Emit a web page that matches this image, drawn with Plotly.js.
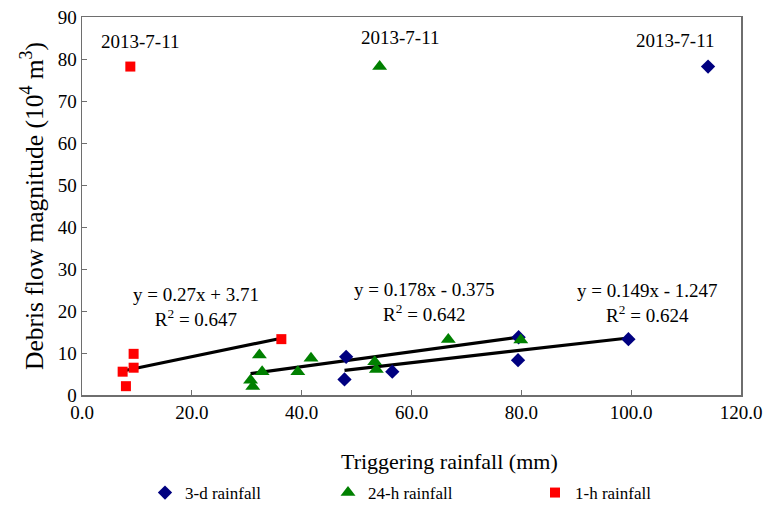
<!DOCTYPE html>
<html>
<head>
<meta charset="utf-8">
<script src="https://cdn.plot.ly/plotly-3.0.1.min.js"></script>
<style>html,body{margin:0;padding:0;background:#fff;}#chart{width:768px;height:519px;}</style>
</head>
<body>
<div id="chart"></div>
<script>
// 3-d rainfall (first point is the 2013-7-11 event)
const rain3d_x = [114.0, 48.1, 47.8, 56.5, 79.5, 79.4, 99.5];
const rain3d_y = [78.2, 9.1, 3.7, 5.55, 13.75, 8.3, 13.3];
// 24-h rainfall
const rain24h_x = [54.2, 32.3, 30.7, 31.1, 32.8, 39.3, 41.7, 53.3, 53.6, 66.7, 79.9];
const rain24h_y = [78.2, 9.5, 3.5, 2.0, 5.55, 5.55, 8.75, 7.9, 6.1, 13.2, 13.1];
// 1-h rainfall
const rain1h_x = [8.8, 7.4, 8.0, 9.4, 9.4, 36.3];
const rain1h_y = [78.2, 5.55, 2.1, 9.8, 6.5, 13.3];

// Trendline coefficients (fitted without the 2013-7-11 event)
const fit3d = {slope: 0.149, intercept: -1.247, r2: 0.624};
const fit24h = {slope: 0.178, intercept: -0.375, r2: 0.642};
const fit1h = {slope: 0.27, intercept: 3.71, r2: 0.647};

const eventLabel = '2013-7-11';
const seriesNames = ['3-d rainfall', '24-h rainfall', '1-h rainfall'];

function trend(xs, fit) {
  const pts = xs.slice(1);
  const x0 = Math.min(...pts), x1 = Math.max(...pts);
  return {
    x: [x0, x1],
    y: [fit.slope * x0 + fit.intercept, fit.slope * x1 + fit.intercept],
    mode: 'lines', type: 'scatter', showlegend: false, hoverinfo: 'skip',
    line: {color: '#000000', width: 3.2}
  };
}
function eqText(fit) {
  const b = fit.intercept;
  const sign = b < 0 ? ' - ' : ' + ';
  return 'y = ' + fit.slope + 'x' + sign + Math.abs(b) + '<br>R<sup>2</sup> = ' + fit.r2.toFixed(3);
}

const serif = 'Liberation Serif';

const traces = [
  trend(rain1h_x, fit1h),
  trend(rain24h_x, fit24h),
  trend(rain3d_x, fit3d),
  {x: rain3d_x, y: rain3d_y, name: seriesNames[0], mode: 'markers', type: 'scatter', legend: 'legend',
   marker: {symbol: 'diamond', size: 11, color: '#000080'}},
  {x: rain24h_x, y: rain24h_y, name: seriesNames[1], mode: 'markers', type: 'scatter', legend: 'legend2',
   marker: {symbol: 'triangle-up', size: 13, color: '#008000'}},
  {x: rain1h_x, y: rain1h_y, name: seriesNames[2], mode: 'markers', type: 'scatter', legend: 'legend3',
   marker: {symbol: 'square', size: 10, color: '#ff0000'}}
];

const annFont = {family: serif, size: 19, color: '#000'};
const annotations = [
  {x: 10.5, y: 84.2, text: eventLabel},
  {x: 57.9, y: 85.1, text: eventLabel},
  {x: 108.0, y: 84.4, text: eventLabel},
  {x: 20.8, y: 21.0, text: eqText(fit1h)},
  {x: 62.4, y: 22.2, text: eqText(fit24h)},
  {x: 103.0, y: 21.9, text: eqText(fit3d)}
].map(a => Object.assign({xref: 'x', yref: 'y', showarrow: false, font: annFont,
  xanchor: 'center', yanchor: 'middle'}, a));

annotations.push({
  xref: 'paper', yref: 'paper', x: 0.558, y: -0.175, showarrow: false,
  text: 'Triggering rainfall (mm)', font: {family: serif, size: 22, color: '#000'},
  xanchor: 'center', yanchor: 'middle'
});

function legendAt(xpx) {
  return {
    orientation: 'h', xref: 'container', yref: 'container',
    x: (xpx - 1) / 768, y: 1 - 493 / 519, xanchor: 'left', yanchor: 'middle',
    font: {family: serif, size: 17, color: '#000'}, itemwidth: 30, bgcolor: 'rgba(0,0,0,0)'
  };
}

const layout = {
  width: 768, height: 519,
  margin: {l: 82, r: 27, t: 17, b: 124},
  paper_bgcolor: '#fff', plot_bgcolor: '#fff',
  font: {family: serif, color: '#000'},
  showlegend: true,
  legend: legendAt(146),
  legend2: legendAt(329),
  legend3: legendAt(536),
  xaxis: {
    range: [0, 120], dtick: 20, tick0: 0, tickformat: '.1f', automargin: false,
    showgrid: false, zeroline: false,
    showline: true, linecolor: '#6e6e6e', linewidth: 1.5, mirror: true,
    ticks: 'inside', ticklen: 5, tickcolor: '#6e6e6e',
    tickfont: {family: serif, size: 19, color: '#000'}
  },
  yaxis: {
    range: [0, 90], dtick: 10, tick0: 0, automargin: false,
    showgrid: false, zeroline: false,
    showline: true, linecolor: '#6e6e6e', linewidth: 1.5, mirror: true,
    ticks: 'inside', ticklen: 5, tickcolor: '#6e6e6e',
    tickfont: {family: serif, size: 19, color: '#000'},
    title: {text: 'Debris flow magnitude (10<sup>4</sup> m<sup>3</sup>)',
            font: {family: serif, size: 25.5, color: '#000'}, standoff: 7}
  },
  annotations: annotations
};

Plotly.newPlot('chart', traces, layout, {displayModeBar: false, staticPlot: true});
</script>
</body>
</html>
